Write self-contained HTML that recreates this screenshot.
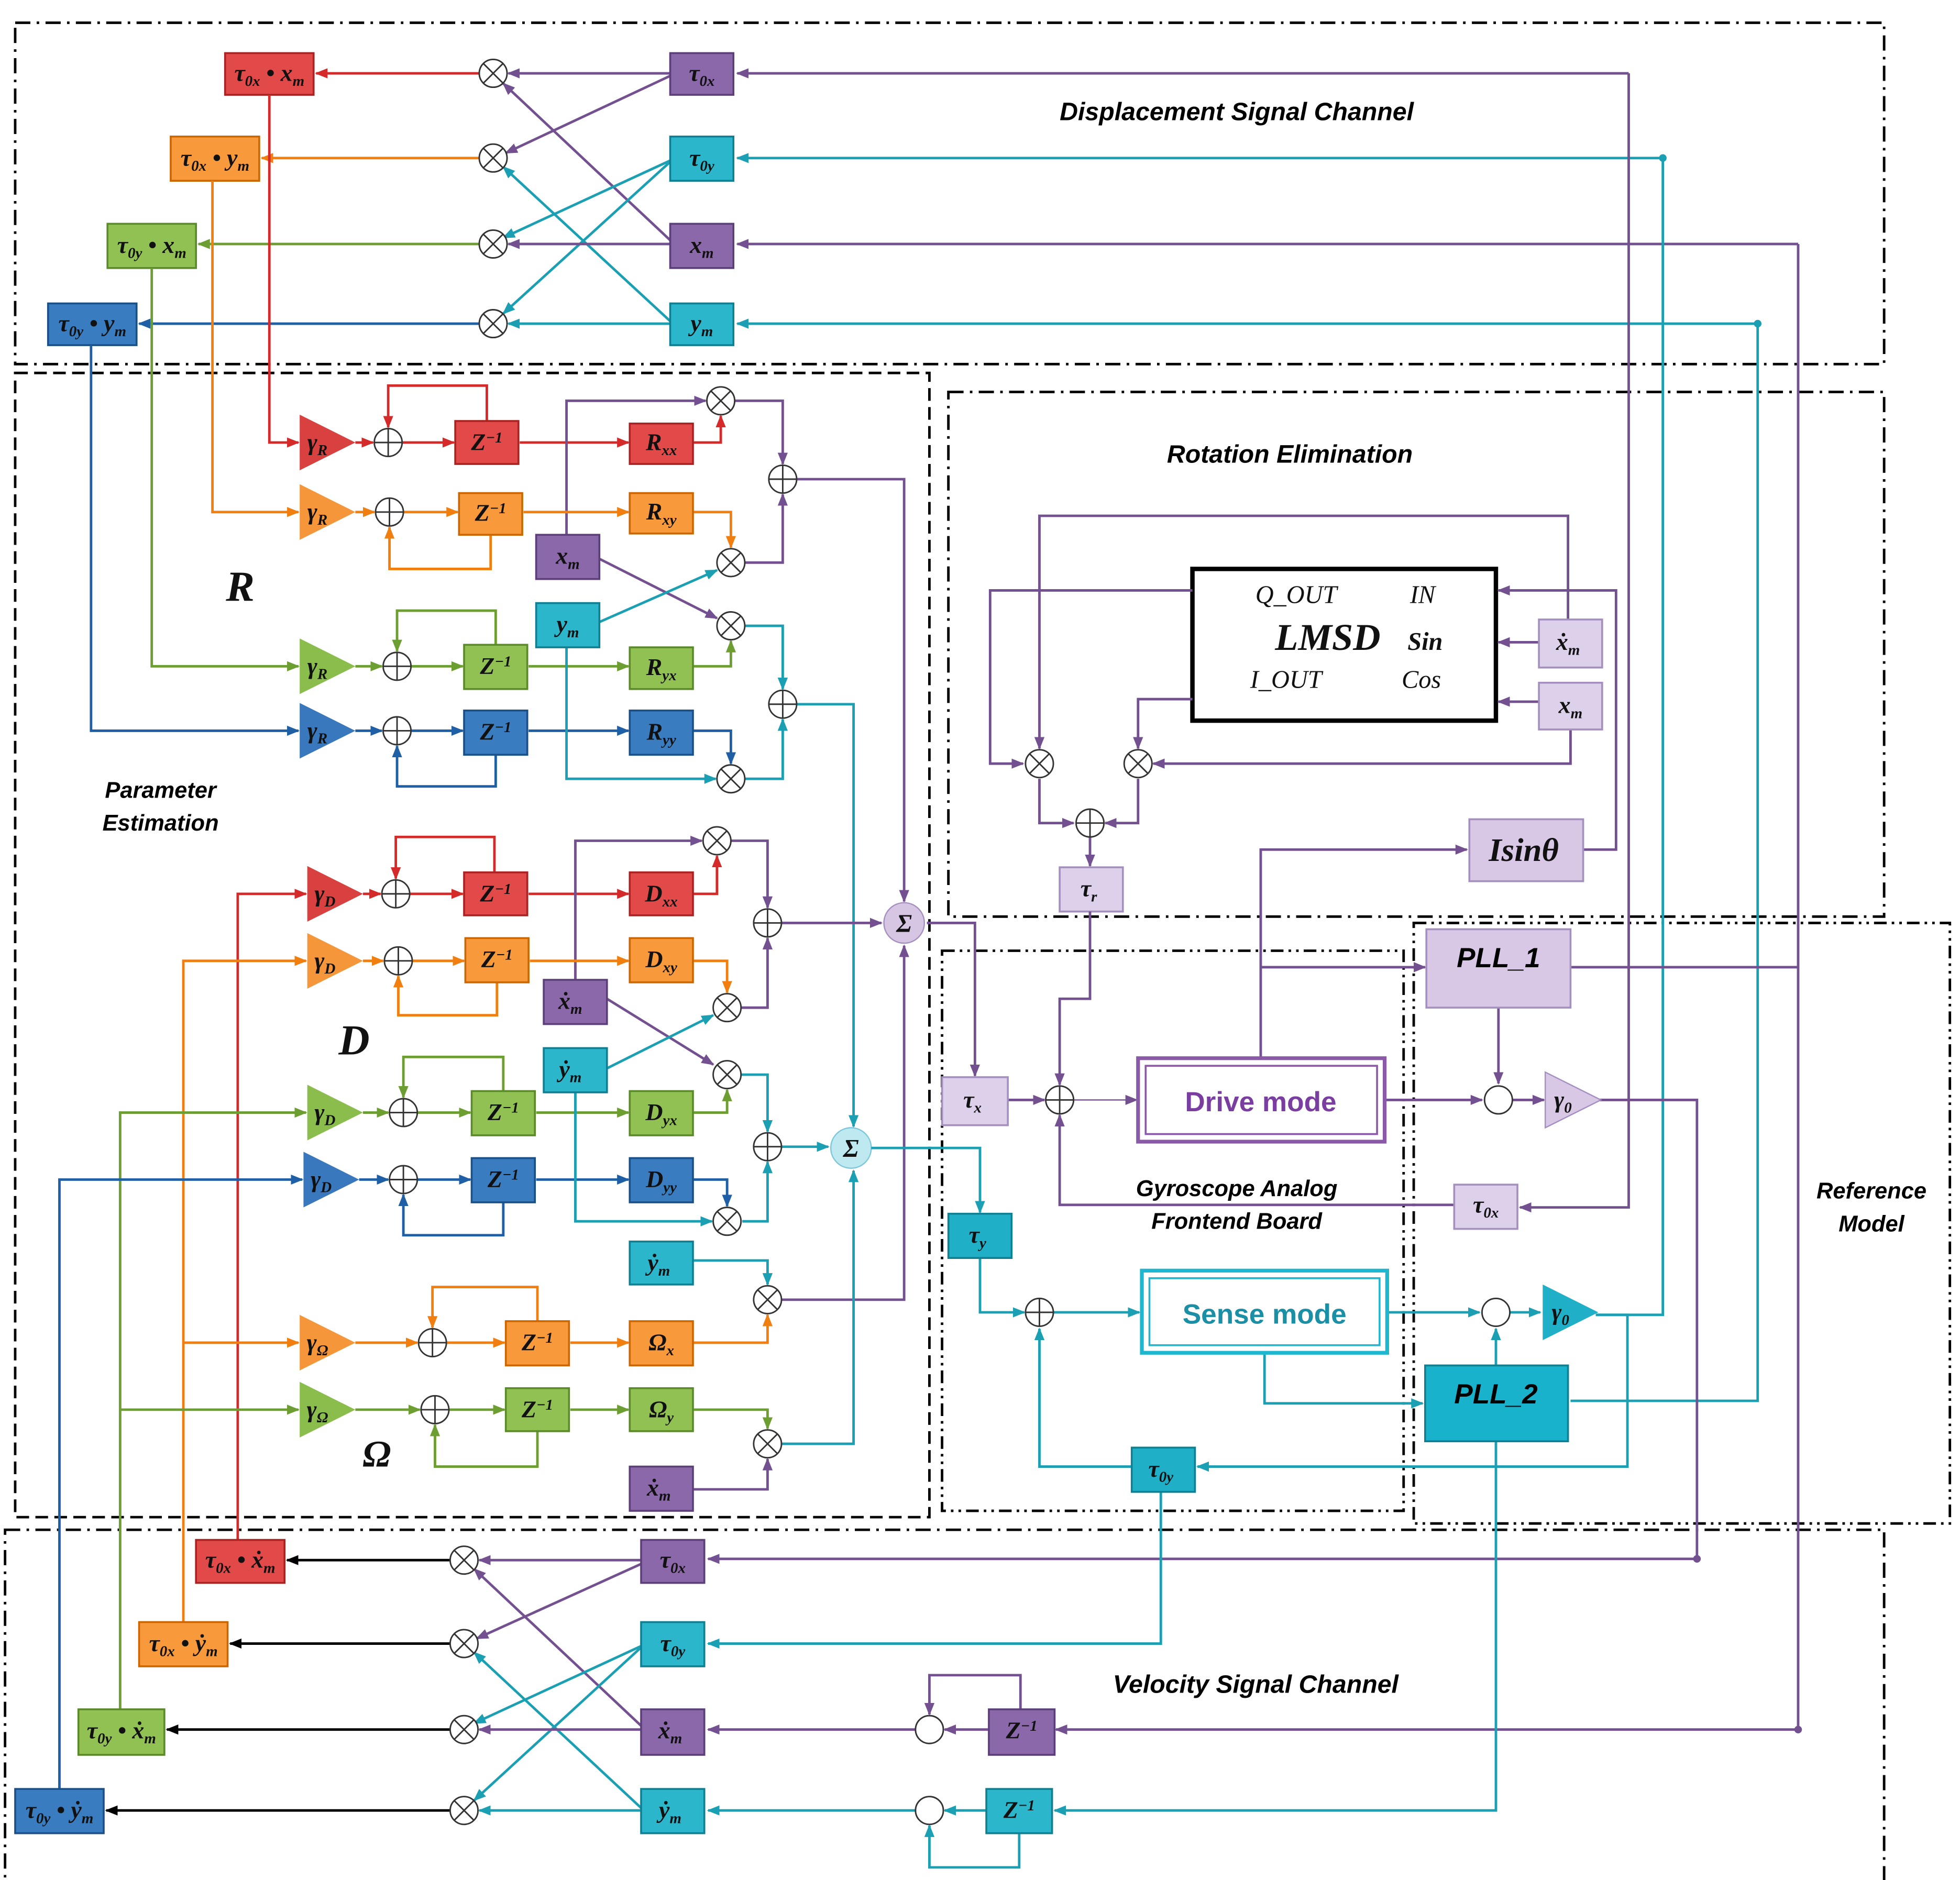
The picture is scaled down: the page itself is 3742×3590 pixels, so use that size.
<!DOCTYPE html>
<html><head><meta charset="utf-8"><style>
html,body{margin:0;padding:0;background:#fff}
svg{display:block}
.l{fill:none;stroke-width:2}
.r{stroke:#d42a2a}.o{stroke:#f07f10}.g{stroke:#6d9e32}.b{stroke:#1f5fa5}.p{stroke:#73508f}.c{stroke:#1a9fb3}.k{stroke:#000}
.bx{stroke-width:1.5}
.t{font-family:"Liberation Serif",serif;font-style:italic;font-weight:bold;font-size:19px;text-anchor:middle;fill:#111}
.s{font-size:12px}
.lab{font-family:"Liberation Sans",sans-serif;font-style:italic;font-weight:bold;font-size:20px;text-anchor:middle;fill:#000}
.dd{fill:none;stroke:#000;stroke-width:2;stroke-dasharray:12 5 2 5}
</style></head><body>
<svg width="3742" height="3590" viewBox="0 0 1550 1487" preserveAspectRatio="none" xmlns="http://www.w3.org/2000/svg">
<defs>
<marker id="ar" markerWidth="10" markerHeight="10" refX="9" refY="5" orient="auto" markerUnits="userSpaceOnUse"><path d="M0 1L10 5L0 9Z" fill="#d42a2a"/></marker>
<marker id="ao" markerWidth="10" markerHeight="10" refX="9" refY="5" orient="auto" markerUnits="userSpaceOnUse"><path d="M0 1L10 5L0 9Z" fill="#f07f10"/></marker>
<marker id="ag" markerWidth="10" markerHeight="10" refX="9" refY="5" orient="auto" markerUnits="userSpaceOnUse"><path d="M0 1L10 5L0 9Z" fill="#6d9e32"/></marker>
<marker id="ab" markerWidth="10" markerHeight="10" refX="9" refY="5" orient="auto" markerUnits="userSpaceOnUse"><path d="M0 1L10 5L0 9Z" fill="#1f5fa5"/></marker>
<marker id="ap" markerWidth="10" markerHeight="10" refX="9" refY="5" orient="auto" markerUnits="userSpaceOnUse"><path d="M0 1L10 5L0 9Z" fill="#73508f"/></marker>
<marker id="ac" markerWidth="10" markerHeight="10" refX="9" refY="5" orient="auto" markerUnits="userSpaceOnUse"><path d="M0 1L10 5L0 9Z" fill="#1a9fb3"/></marker>
<marker id="ak" markerWidth="10" markerHeight="10" refX="9" refY="5" orient="auto" markerUnits="userSpaceOnUse"><path d="M0 1L10 5L0 9Z" fill="#000"/></marker>
<g id="add"><circle r="11" fill="#fff" stroke="#333" stroke-width="1.2"/><path d="M-11 0H11M0-11V11" stroke="#333" stroke-width="1.2"/></g>
<g id="mul"><circle r="11" fill="#fff" stroke="#333" stroke-width="1.2"/><path d="M-7.8-7.8L7.8 7.8M-7.8 7.8L7.8-7.8" stroke="#333" stroke-width="1.2"/></g>
<g id="cir"><circle r="11" fill="#fff" stroke="#333" stroke-width="1.2"/></g>
<path id="tri" d="M0-22L44 0L0 22Z"/>
</defs>

<rect class="dd" x="12" y="18" width="1478" height="270"/>
<rect class="dd" x="12" y="295" width="723" height="905" style="stroke-dasharray:10 5"/>
<rect class="dd" x="750" y="310" width="740" height="415"/>
<rect class="dd" x="745" y="752" width="365" height="443" style="stroke-dasharray:10 4 2 4 2 4"/>
<rect class="dd" x="1118" y="730" width="424" height="475" style="stroke-dasharray:10 4 2 4 2 4"/>
<rect class="dd" x="4" y="1210" width="1486" height="280"/>

<path class="l p" d="M530 58H402" marker-end="url(#ap)"/>
<path class="l r" d="M379 58H250" marker-end="url(#ar)"/>
<path class="l p" d="M530 60L400 121" marker-end="url(#ap)"/>
<path class="l p" d="M530 190L398 66" marker-end="url(#ap)"/>
<path class="l o" d="M379 125H207" marker-end="url(#ao)"/>
<path class="l c" d="M530 127L398 188" marker-end="url(#ac)"/>
<path class="l c" d="M530 128L398 248" marker-end="url(#ac)"/>
<path class="l c" d="M530 254L398 132" marker-end="url(#ac)"/>
<path class="l p" d="M530 193H402" marker-end="url(#ap)"/>
<path class="l g" d="M379 193H157" marker-end="url(#ag)"/>
<path class="l c" d="M530 256H402" marker-end="url(#ac)"/>
<path class="l b" d="M379 256H110" marker-end="url(#ab)"/>
<use href="#mul" x="390" y="58"/><use href="#mul" x="390" y="125"/><use href="#mul" x="390" y="193"/><use href="#mul" x="390" y="256"/>
<path class="l p" d="M1288 58H583" marker-end="url(#ap)"/>
<path class="l c" d="M1315 125H583" marker-end="url(#ac)"/>
<path class="l p" d="M1422 193H583" marker-end="url(#ap)"/>
<path class="l c" d="M1390 256H583" marker-end="url(#ac)"/>
<path class="l p" d="M1288 58V955H1202" marker-end="url(#ap)"/>
<path class="l c" d="M1315 125V1040H1262"/>
<circle cx="1315" cy="125" r="3" fill="#1a9fb3"/><circle cx="1390" cy="256" r="3" fill="#1a9fb3"/>
<path class="l p" d="M1422 193V1368H835" marker-end="url(#ap)"/>
<circle cx="1422" cy="1368" r="3" fill="#73508f"/>
<path class="l c" d="M1390 256V1108H1242"/>

<rect x="178" y="42" width="70" height="33" fill="#e24a4a" stroke="#a22" class="bx"/>
<text x="213" y="64" class="t">τ<tspan class="s" dy="4">0x</tspan><tspan dy="-4"> • x</tspan><tspan class="s" dy="4">m</tspan></text>
<rect x="135" y="108" width="70" height="35" fill="#f89a3c" stroke="#c60" class="bx"/>
<text x="170" y="131" class="t">τ<tspan class="s" dy="4">0x</tspan><tspan dy="-4"> • y</tspan><tspan class="s" dy="4">m</tspan></text>
<rect x="85" y="177" width="70" height="35" fill="#92c153" stroke="#5a8a2a" class="bx"/>
<text x="120" y="200" class="t">τ<tspan class="s" dy="4">0y</tspan><tspan dy="-4"> • x</tspan><tspan class="s" dy="4">m</tspan></text>
<rect x="38" y="240" width="70" height="33" fill="#3a7cc0" stroke="#1b4f88" class="bx"/>
<text x="73" y="262" class="t">τ<tspan class="s" dy="4">0y</tspan><tspan dy="-4"> • y</tspan><tspan class="s" dy="4">m</tspan></text>
<rect x="530" y="42" width="50" height="33" fill="#8b68a9" stroke="#5c3f78" class="bx"/>
<text x="555" y="64" class="t">τ<tspan class="s" dy="4">0x</tspan></text>
<rect x="530" y="108" width="50" height="35" fill="#2bb6cc" stroke="#117f92" class="bx"/>
<text x="555" y="131" class="t">τ<tspan class="s" dy="4">0y</tspan></text>
<rect x="530" y="177" width="50" height="35" fill="#8b68a9" stroke="#5c3f78" class="bx"/>
<text x="555" y="200" class="t">x<tspan class="s" dy="4">m</tspan></text>
<rect x="530" y="240" width="50" height="33" fill="#2bb6cc" stroke="#117f92" class="bx"/>
<text x="555" y="262" class="t">y<tspan class="s" dy="4">m</tspan></text>
<text x="978" y="95" class="lab">Displacement Signal Channel</text>

<path class="l r" d="M213 75V350H236" marker-end="url(#ar)"/>
<path class="l r" d="M281 350H295" marker-end="url(#ar)"/>
<path class="l r" d="M318 350H359" marker-end="url(#ar)"/>
<path class="l r" d="M385 333V305H307V338" marker-end="url(#ar)"/>
<path class="l r" d="M411 350H497" marker-end="url(#ar)"/>
<path class="l r" d="M548 350H570V329" marker-end="url(#ar)"/>
<path class="l p" d="M448 423V317H558" marker-end="url(#ap)"/>
<path class="l o" d="M168 143V405H236" marker-end="url(#ao)"/>
<path class="l o" d="M281 405H296" marker-end="url(#ao)"/>
<path class="l o" d="M319 405H362" marker-end="url(#ao)"/>
<path class="l o" d="M388 423V450H308V417" marker-end="url(#ao)"/>
<path class="l o" d="M414 405H497" marker-end="url(#ao)"/>
<path class="l o" d="M548 405H578V433" marker-end="url(#ao)"/>
<path class="l g" d="M120 212V527H236" marker-end="url(#ag)"/>
<path class="l g" d="M281 527H302" marker-end="url(#ag)"/>
<path class="l g" d="M325 527H366" marker-end="url(#ag)"/>
<path class="l g" d="M392 510V483H314V515" marker-end="url(#ag)"/>
<path class="l g" d="M418 527H497" marker-end="url(#ag)"/>
<path class="l g" d="M548 527H578V507" marker-end="url(#ag)"/>
<path class="l b" d="M72 273V578H236" marker-end="url(#ab)"/>
<path class="l b" d="M281 578H302" marker-end="url(#ab)"/>
<path class="l b" d="M325 578H366" marker-end="url(#ab)"/>
<path class="l b" d="M392 597V622H314V590" marker-end="url(#ab)"/>
<path class="l b" d="M418 578H497" marker-end="url(#ab)"/>
<path class="l b" d="M548 578H578V604" marker-end="url(#ab)"/>
<path class="l p" d="M474 442L567 489" marker-end="url(#ap)"/>
<path class="l c" d="M474 492L567 451" marker-end="url(#ac)"/>
<path class="l c" d="M448 512V616H566" marker-end="url(#ac)"/>
<path class="l p" d="M581 317H619V367" marker-end="url(#ap)"/>
<path class="l p" d="M589 445H619V391" marker-end="url(#ap)"/>
<path class="l c" d="M589 495H619V545" marker-end="url(#ac)"/>
<path class="l c" d="M589 616H619V569" marker-end="url(#ac)"/>
<path class="l p" d="M630 379H715V713" marker-end="url(#ap)"/>
<path class="l c" d="M630 557H675V891" marker-end="url(#ac)"/>
<use href="#mul" x="570" y="317"/><use href="#mul" x="578" y="445"/><use href="#mul" x="578" y="495"/><use href="#mul" x="578" y="616"/>
<use href="#add" x="619" y="379"/><use href="#add" x="619" y="557"/>
<use href="#add" x="307" y="350"/><use href="#add" x="308" y="405"/><use href="#add" x="314" y="527"/><use href="#add" x="314" y="578"/>
<use href="#tri" x="237" y="350" fill="#d94040"/><use href="#tri" x="237" y="405" fill="#f5963a"/><use href="#tri" x="237" y="527" fill="#8bbd4d"/><use href="#tri" x="237" y="578" fill="#3a78bd"/>
<text x="251" y="356" class="t">γ<tspan class="s" dy="4">R</tspan></text>
<text x="251" y="411" class="t">γ<tspan class="s" dy="4">R</tspan></text>
<text x="251" y="533" class="t">γ<tspan class="s" dy="4">R</tspan></text>
<text x="251" y="584" class="t">γ<tspan class="s" dy="4">R</tspan></text>
<rect x="360" y="333" width="50" height="34" fill="#e24a4a" stroke="#a22" class="bx"/><text x="385" y="356" class="t">Z<tspan class="s" dy="-6">−1</tspan></text>
<rect x="363" y="390" width="50" height="33" fill="#f89a3c" stroke="#c60" class="bx"/><text x="388" y="412" class="t">Z<tspan class="s" dy="-6">−1</tspan></text>
<rect x="367" y="510" width="50" height="35" fill="#92c153" stroke="#5a8a2a" class="bx"/><text x="392" y="533" class="t">Z<tspan class="s" dy="-6">−1</tspan></text>
<rect x="367" y="562" width="50" height="35" fill="#3a7cc0" stroke="#1b4f88" class="bx"/><text x="392" y="585" class="t">Z<tspan class="s" dy="-6">−1</tspan></text>
<rect x="498" y="335" width="50" height="32" fill="#e24a4a" stroke="#a22" class="bx"/><text x="523" y="356" class="t">R<tspan class="s" dy="4">xx</tspan></text>
<rect x="498" y="390" width="50" height="32" fill="#f89a3c" stroke="#c60" class="bx"/><text x="523" y="411" class="t">R<tspan class="s" dy="4">xy</tspan></text>
<rect x="498" y="512" width="50" height="33" fill="#92c153" stroke="#5a8a2a" class="bx"/><text x="523" y="534" class="t">R<tspan class="s" dy="4">yx</tspan></text>
<rect x="498" y="562" width="50" height="35" fill="#3a7cc0" stroke="#1b4f88" class="bx"/><text x="523" y="585" class="t">R<tspan class="s" dy="4">yy</tspan></text>
<rect x="424" y="423" width="50" height="35" fill="#8b68a9" stroke="#5c3f78" class="bx"/><text x="449" y="446" class="t">x<tspan class="s" dy="4">m</tspan></text>
<rect x="424" y="477" width="50" height="35" fill="#2bb6cc" stroke="#117f92" class="bx"/><text x="449" y="500" class="t">y<tspan class="s" dy="4">m</tspan></text>
<text x="190" y="475" class="t" style="font-size:34px">R</text>
<text x="127" y="631" class="lab" style="font-size:18px">Parameter</text>
<text x="127" y="657" class="lab" style="font-size:18px">Estimation</text>

<path class="l r" d="M188 1218V707H242" marker-end="url(#ar)"/>
<path class="l r" d="M287 707H301" marker-end="url(#ar)"/>
<path class="l r" d="M324 707H366" marker-end="url(#ar)"/>
<path class="l r" d="M391 690V662H313V695" marker-end="url(#ar)"/>
<path class="l r" d="M418 707H497" marker-end="url(#ar)"/>
<path class="l r" d="M548 707H567V677" marker-end="url(#ar)"/>
<path class="l p" d="M455 775V665H555" marker-end="url(#ap)"/>
<path class="l o" d="M145 1283V760H242" marker-end="url(#ao)"/>
<path class="l o" d="M287 760H303" marker-end="url(#ao)"/>
<path class="l o" d="M326 760H367" marker-end="url(#ao)"/>
<path class="l o" d="M393 777V803H315V772" marker-end="url(#ao)"/>
<path class="l o" d="M419 760H497" marker-end="url(#ao)"/>
<path class="l o" d="M548 760H575V785" marker-end="url(#ao)"/>
<path class="l g" d="M95 1352V880H242" marker-end="url(#ag)"/>
<path class="l g" d="M287 880H307" marker-end="url(#ag)"/>
<path class="l g" d="M330 880H372" marker-end="url(#ag)"/>
<path class="l g" d="M398 863V836H319V868" marker-end="url(#ag)"/>
<path class="l g" d="M424 880H497" marker-end="url(#ag)"/>
<path class="l g" d="M548 880H575V862" marker-end="url(#ag)"/>
<path class="l b" d="M47 1415V933H239" marker-end="url(#ab)"/>
<path class="l b" d="M284 933H307" marker-end="url(#ab)"/>
<path class="l b" d="M330 933H372" marker-end="url(#ab)"/>
<path class="l b" d="M398 951V977H319V945" marker-end="url(#ab)"/>
<path class="l b" d="M424 933H497" marker-end="url(#ab)"/>
<path class="l b" d="M548 933H575V954" marker-end="url(#ab)"/>
<path class="l p" d="M480 790L564 842" marker-end="url(#ap)"/>
<path class="l c" d="M480 845L564 803" marker-end="url(#ac)"/>
<path class="l c" d="M455 864V966H563" marker-end="url(#ac)"/>
<path class="l p" d="M578 665H607V718" marker-end="url(#ap)"/>
<path class="l p" d="M586 797H607V742" marker-end="url(#ap)"/>
<path class="l c" d="M586 850H607V895" marker-end="url(#ac)"/>
<path class="l c" d="M587 966H607V919" marker-end="url(#ac)"/>
<path class="l p" d="M618 730H697" marker-end="url(#ap)"/>
<path class="l c" d="M618 907H655" marker-end="url(#ac)"/>
<use href="#mul" x="567" y="665"/><use href="#mul" x="575" y="797"/><use href="#mul" x="575" y="850"/><use href="#mul" x="575" y="966"/>
<use href="#add" x="607" y="730"/><use href="#add" x="607" y="907"/>
<use href="#add" x="313" y="707"/><use href="#add" x="315" y="760"/><use href="#add" x="319" y="880"/><use href="#add" x="319" y="933"/>
<use href="#tri" x="243" y="707" fill="#d94040"/><use href="#tri" x="243" y="760" fill="#f5963a"/><use href="#tri" x="243" y="880" fill="#8bbd4d"/><use href="#tri" x="240" y="933" fill="#3a78bd"/>
<text x="257" y="713" class="t">γ<tspan class="s" dy="4">D</tspan></text>
<text x="257" y="766" class="t">γ<tspan class="s" dy="4">D</tspan></text>
<text x="257" y="886" class="t">γ<tspan class="s" dy="4">D</tspan></text>
<text x="254" y="939" class="t">γ<tspan class="s" dy="4">D</tspan></text>
<rect x="367" y="690" width="50" height="34" fill="#e24a4a" stroke="#a22" class="bx"/><text x="392" y="713" class="t">Z<tspan class="s" dy="-6">−1</tspan></text>
<rect x="368" y="742" width="50" height="35" fill="#f89a3c" stroke="#c60" class="bx"/><text x="393" y="765" class="t">Z<tspan class="s" dy="-6">−1</tspan></text>
<rect x="373" y="863" width="50" height="35" fill="#92c153" stroke="#5a8a2a" class="bx"/><text x="398" y="886" class="t">Z<tspan class="s" dy="-6">−1</tspan></text>
<rect x="373" y="916" width="50" height="35" fill="#3a7cc0" stroke="#1b4f88" class="bx"/><text x="398" y="939" class="t">Z<tspan class="s" dy="-6">−1</tspan></text>
<rect x="498" y="690" width="50" height="34" fill="#e24a4a" stroke="#a22" class="bx"/><text x="523" y="713" class="t">D<tspan class="s" dy="4">xx</tspan></text>
<rect x="498" y="742" width="50" height="35" fill="#f89a3c" stroke="#c60" class="bx"/><text x="523" y="765" class="t">D<tspan class="s" dy="4">xy</tspan></text>
<rect x="498" y="863" width="50" height="35" fill="#92c153" stroke="#5a8a2a" class="bx"/><text x="523" y="886" class="t">D<tspan class="s" dy="4">yx</tspan></text>
<rect x="498" y="916" width="50" height="35" fill="#3a7cc0" stroke="#1b4f88" class="bx"/><text x="523" y="939" class="t">D<tspan class="s" dy="4">yy</tspan></text>
<rect x="430" y="775" width="50" height="35" fill="#8b68a9" stroke="#5c3f78" class="bx"/><text x="451" y="798" class="t">ẋ<tspan class="s" dy="4">m</tspan></text>
<rect x="430" y="829" width="50" height="35" fill="#2bb6cc" stroke="#117f92" class="bx"/><text x="451" y="852" class="t">ẏ<tspan class="s" dy="4">m</tspan></text>
<text x="280" y="834" class="t" style="font-size:34px">D</text>
<circle cx="715" cy="730" r="16" fill="#d6c6e4" stroke="#a58fbf" stroke-width="1"/><text x="715" y="737" class="t" style="font-size:20px">Σ</text>
<circle cx="673" cy="908" r="16" fill="#bfe9f1" stroke="#7cc8d8" stroke-width="1"/><text x="673" y="915" class="t" style="font-size:20px">Σ</text>

<path class="l c" d="M548 997H607V1016" marker-end="url(#ac)"/>
<path class="l p" d="M618 1028H715V748" marker-end="url(#ap)"/>
<path class="l o" d="M145 1062H236" marker-end="url(#ao)"/>
<path class="l o" d="M281 1062H330" marker-end="url(#ao)"/>
<path class="l o" d="M353 1062H399" marker-end="url(#ao)"/>
<path class="l o" d="M425 1045V1018H342V1050" marker-end="url(#ao)"/>
<path class="l o" d="M451 1062H497" marker-end="url(#ao)"/>
<path class="l o" d="M548 1062H607V1040" marker-end="url(#ao)"/>
<path class="l g" d="M95 1115H236" marker-end="url(#ag)"/>
<path class="l g" d="M281 1115H332" marker-end="url(#ag)"/>
<path class="l g" d="M355 1115H399" marker-end="url(#ag)"/>
<path class="l g" d="M425 1132V1160H344V1127" marker-end="url(#ag)"/>
<path class="l g" d="M451 1115H497" marker-end="url(#ag)"/>
<path class="l g" d="M548 1115H607V1130" marker-end="url(#ag)"/>
<path class="l p" d="M548 1178H607V1154" marker-end="url(#ap)"/>
<path class="l c" d="M618 1142H675V926" marker-end="url(#ac)"/>
<use href="#mul" x="607" y="1028"/><use href="#mul" x="607" y="1142"/>
<use href="#add" x="342" y="1062"/><use href="#add" x="344" y="1115"/>
<use href="#tri" x="237" y="1062" fill="#f5963a"/><use href="#tri" x="237" y="1115" fill="#8bbd4d"/>
<text x="251" y="1068" class="t">γ<tspan class="s" dy="4">Ω</tspan></text>
<text x="251" y="1121" class="t">γ<tspan class="s" dy="4">Ω</tspan></text>
<rect x="498" y="982" width="50" height="34" fill="#2bb6cc" stroke="#117f92" class="bx"/><text x="521" y="1005" class="t">ẏ<tspan class="s" dy="4">m</tspan></text>
<rect x="400" y="1045" width="50" height="35" fill="#f89a3c" stroke="#c60" class="bx"/><text x="425" y="1068" class="t">Z<tspan class="s" dy="-6">−1</tspan></text>
<rect x="400" y="1098" width="50" height="34" fill="#92c153" stroke="#5a8a2a" class="bx"/><text x="425" y="1121" class="t">Z<tspan class="s" dy="-6">−1</tspan></text>
<rect x="498" y="1045" width="50" height="35" fill="#f89a3c" stroke="#c60" class="bx"/><text x="523" y="1068" class="t">Ω<tspan class="s" dy="4">x</tspan></text>
<rect x="498" y="1098" width="50" height="34" fill="#92c153" stroke="#5a8a2a" class="bx"/><text x="523" y="1121" class="t">Ω<tspan class="s" dy="4">y</tspan></text>
<rect x="498" y="1160" width="50" height="35" fill="#8b68a9" stroke="#5c3f78" class="bx"/><text x="521" y="1183" class="t">ẋ<tspan class="s" dy="4">m</tspan></text>
<text x="298" y="1160" class="t" style="font-size:30px">Ω</text>

<rect x="943" y="450" width="240" height="120" fill="#fff" stroke="#000" stroke-width="3.5"/>
<text x="1025" y="477" class="t" style="font-weight:normal;font-size:20px">Q_OUT</text>
<text x="1125" y="477" class="t" style="font-weight:normal;font-size:20px">IN</text>
<text x="1050" y="514" class="t" style="font-size:30px">LMSD</text>
<text x="1127" y="514" class="t" style="font-size:20px">Sin</text>
<text x="1017" y="544" class="t" style="font-weight:normal;font-size:20px">I_OUT</text>
<text x="1124" y="544" class="t" style="font-weight:normal;font-size:20px">Cos</text>
<path class="l p" d="M1217 508H1185" marker-end="url(#ap)"/>
<path class="l p" d="M1217 555H1185" marker-end="url(#ap)"/>
<path class="l p" d="M1252 672H1278V467H1185" marker-end="url(#ap)"/>
<path class="l p" d="M1240 490V408H822V592" marker-end="url(#ap)"/>
<path class="l p" d="M943 467H783V604H809" marker-end="url(#ap)"/>
<path class="l p" d="M943 553H900V592" marker-end="url(#ap)"/>
<path class="l p" d="M1242 577V604H912" marker-end="url(#ap)"/>
<path class="l p" d="M822 616V651H849" marker-end="url(#ap)"/>
<path class="l p" d="M900 616V651H874" marker-end="url(#ap)"/>
<path class="l p" d="M862 662V685" marker-end="url(#ap)"/>
<use href="#mul" x="822" y="604"/><use href="#mul" x="900" y="604"/><use href="#add" x="862" y="651"/>
<rect x="1217" y="490" width="50" height="38" fill="#ddd0ea" stroke="#a58fbf" class="bx"/><text x="1240" y="514" class="t">ẋ<tspan class="s" dy="4">m</tspan></text>
<rect x="1217" y="540" width="50" height="37" fill="#ddd0ea" stroke="#a58fbf" class="bx"/><text x="1242" y="564" class="t">x<tspan class="s" dy="4">m</tspan></text>
<rect x="1162" y="648" width="90" height="49" fill="#d8c8e6" stroke="#a58fbf" class="bx"/><text x="1205" y="681" class="t" style="font-size:26px">Isinθ</text>
<rect x="838" y="686" width="50" height="35" fill="#ddd0ea" stroke="#a58fbf" class="bx"/><text x="861" y="709" class="t">τ<tspan class="s" dy="4">r</tspan></text>
<text x="1020" y="366" class="lab">Rotation Elimination</text>

<path class="l p" d="M733 730H771V851" marker-end="url(#ap)"/>
<path class="l c" d="M689 908H775V959" marker-end="url(#ac)"/>
<path class="l p" d="M797 870H826" marker-end="url(#ap)"/>
<path class="l p" d="M862 721V790H838V858" marker-end="url(#ap)"/>
<path class="l p" d="M1150 953H838V882" marker-end="url(#ap)"/>
<path class="l p" d="M849 870H899" marker-end="url(#ap)" style="stroke-width:1"/>
<path class="l p" d="M997 837V672H1160" marker-end="url(#ap)"/>
<path class="l p" d="M997 765H1127" marker-end="url(#ap)"/>
<path class="l p" d="M1095 870H1172" marker-end="url(#ap)"/>
<path class="l p" d="M1185 797V857" marker-end="url(#ap)"/>
<path class="l p" d="M1196 870H1221" marker-end="url(#ap)"/>
<path class="l p" d="M1242 765H1422"/>
<path class="l p" d="M1265 870H1342V1233H560" marker-end="url(#ap)"/>
<circle cx="1342" cy="1233" r="3" fill="#73508f"/>
<use href="#add" x="838" y="870"/><use href="#cir" x="1185" y="870"/>
<rect x="745" y="852" width="52" height="38" fill="#ddd0ea" stroke="#a58fbf" class="bx"/><text x="769" y="876" class="t">τ<tspan class="s" dy="4">x</tspan></text>
<rect x="900" y="837" width="195" height="66" fill="#fff" stroke="#8a5aa8" stroke-width="3"/>
<rect x="906" y="843" width="183" height="54" fill="none" stroke="#8a5aa8" stroke-width="1.5"/>
<text x="997" y="879" style="font-family:'Liberation Sans',sans-serif;font-weight:bold;font-size:22px;fill:#7a3ea0;text-anchor:middle">Drive mode</text>
<rect x="1128" y="735" width="114" height="62" fill="#d8c8e6" stroke="#a58fbf" class="bx"/><text x="1185" y="765" class="lab" style="font-size:22px">PLL_1</text>
<use href="#tri" x="1222" y="870" fill="#d8c8e6" stroke="#a58fbf"/>
<text x="1236" y="876" class="t">γ<tspan class="s" dy="4">0</tspan></text>
<rect x="1150" y="937" width="50" height="35" fill="#ddd0ea" stroke="#a58fbf" class="bx"/><text x="1175" y="959" class="t">τ<tspan class="s" dy="4">0x</tspan></text>
<text x="978" y="946" class="lab" style="font-size:18px">Gyroscope Analog</text>
<text x="978" y="972" class="lab" style="font-size:18px">Frontend Board</text>

<path class="l c" d="M775 995V1038H810" marker-end="url(#ac)"/>
<path class="l c" d="M833 1038H901" marker-end="url(#ac)"/>
<path class="l c" d="M1097 1038H1170" marker-end="url(#ac)"/>
<path class="l c" d="M1194 1038H1218" marker-end="url(#ac)"/>
<path class="l c" d="M1000 1070V1110H1125" marker-end="url(#ac)"/>
<path class="l c" d="M1183 1080V1051" marker-end="url(#ac)"/>
<path class="l c" d="M1262 1040H1287V1160H947" marker-end="url(#ac)"/>
<path class="l c" d="M895 1160H822V1051" marker-end="url(#ac)"/>
<path class="l c" d="M918 1180V1300H560" marker-end="url(#ac)"/>
<path class="l c" d="M1183 1140V1432H834" marker-end="url(#ac)"/>
<use href="#add" x="822" y="1038"/><use href="#cir" x="1183" y="1038"/>
<rect x="750" y="960" width="50" height="35" fill="#1fb0c8" stroke="#117f92" class="bx"/><text x="773" y="983" class="t">τ<tspan class="s" dy="4">y</tspan></text>
<rect x="903" y="1005" width="194" height="65" fill="#fff" stroke="#1fb6cf" stroke-width="3"/>
<rect x="909" y="1011" width="182" height="53" fill="none" stroke="#1fb6cf" stroke-width="1.5"/>
<text x="1000" y="1047" style="font-family:'Liberation Sans',sans-serif;font-weight:bold;font-size:22px;fill:#1a8fa5;text-anchor:middle">Sense mode</text>
<rect x="1127" y="1080" width="113" height="60" fill="#18b2cc" stroke="#0f7f92" class="bx"/><text x="1183" y="1110" class="lab" style="font-size:22px">PLL_2</text>
<use href="#tri" x="1220" y="1038" fill="#1fb0c8"/>
<text x="1234" y="1044" class="t">γ<tspan class="s" dy="4">0</tspan></text>
<rect x="895" y="1145" width="50" height="35" fill="#1fb0c8" stroke="#117f92" class="bx"/><text x="918" y="1168" class="t">τ<tspan class="s" dy="4">0y</tspan></text>
<text x="1480" y="948" class="lab" style="font-size:18px">Reference</text>
<text x="1480" y="974" class="lab" style="font-size:18px">Model</text>

<path class="l p" d="M507 1234H379" marker-end="url(#ap)"/>
<path class="l k" d="M356 1234H227" marker-end="url(#ak)"/>
<path class="l p" d="M507 1237L377 1296" marker-end="url(#ap)"/>
<path class="l p" d="M507 1365L375 1241" marker-end="url(#ap)"/>
<path class="l k" d="M356 1300H182" marker-end="url(#ak)"/>
<path class="l c" d="M507 1302L375 1363" marker-end="url(#ac)"/>
<path class="l c" d="M507 1303L375 1424" marker-end="url(#ac)"/>
<path class="l c" d="M507 1430L375 1307" marker-end="url(#ac)"/>
<path class="l p" d="M507 1368H379" marker-end="url(#ap)"/>
<path class="l k" d="M356 1368H132" marker-end="url(#ak)"/>
<path class="l c" d="M507 1432H379" marker-end="url(#ac)"/>
<path class="l k" d="M356 1432H84" marker-end="url(#ak)"/>
<use href="#mul" x="367" y="1234"/><use href="#mul" x="367" y="1300"/><use href="#mul" x="367" y="1368"/><use href="#mul" x="367" y="1432"/>
<path class="l p" d="M782 1368H747" marker-end="url(#ap)"/>
<path class="l p" d="M724 1368H560" marker-end="url(#ap)"/>
<path class="l p" d="M807 1352V1325H735V1356" marker-end="url(#ap)"/>
<path class="l c" d="M780 1432H747" marker-end="url(#ac)"/>
<path class="l c" d="M724 1432H560" marker-end="url(#ac)"/>
<path class="l c" d="M806 1450V1477H735V1444" marker-end="url(#ac)"/>
<use href="#cir" x="735" y="1368"/><use href="#cir" x="735" y="1432"/>
<rect x="155" y="1218" width="70" height="34" fill="#e24a4a" stroke="#a22" class="bx"/>
<text x="190" y="1240" class="t">τ<tspan class="s" dy="4">0x</tspan><tspan dy="-4"> • ẋ</tspan><tspan class="s" dy="4">m</tspan></text>
<rect x="110" y="1283" width="70" height="35" fill="#f89a3c" stroke="#c60" class="bx"/>
<text x="145" y="1306" class="t">τ<tspan class="s" dy="4">0x</tspan><tspan dy="-4"> • ẏ</tspan><tspan class="s" dy="4">m</tspan></text>
<rect x="62" y="1352" width="68" height="36" fill="#92c153" stroke="#5a8a2a" class="bx"/>
<text x="96" y="1375" class="t">τ<tspan class="s" dy="4">0y</tspan><tspan dy="-4"> • ẋ</tspan><tspan class="s" dy="4">m</tspan></text>
<rect x="12" y="1415" width="70" height="35" fill="#3a7cc0" stroke="#1b4f88" class="bx"/>
<text x="47" y="1438" class="t">τ<tspan class="s" dy="4">0y</tspan><tspan dy="-4"> • ẏ</tspan><tspan class="s" dy="4">m</tspan></text>
<rect x="507" y="1218" width="50" height="34" fill="#8b68a9" stroke="#5c3f78" class="bx"/><text x="532" y="1240" class="t">τ<tspan class="s" dy="4">0x</tspan></text>
<rect x="507" y="1283" width="50" height="35" fill="#2bb6cc" stroke="#117f92" class="bx"/><text x="532" y="1306" class="t">τ<tspan class="s" dy="4">0y</tspan></text>
<rect x="507" y="1352" width="50" height="36" fill="#8b68a9" stroke="#5c3f78" class="bx"/><text x="530" y="1375" class="t">ẋ<tspan class="s" dy="4">m</tspan></text>
<rect x="507" y="1415" width="50" height="35" fill="#2bb6cc" stroke="#117f92" class="bx"/><text x="530" y="1438" class="t">ẏ<tspan class="s" dy="4">m</tspan></text>
<rect x="782" y="1352" width="52" height="36" fill="#8b68a9" stroke="#5c3f78" class="bx"/><text x="808" y="1375" class="t">Z<tspan class="s" dy="-6">−1</tspan></text>
<rect x="780" y="1415" width="52" height="35" fill="#2bb6cc" stroke="#117f92" class="bx"/><text x="806" y="1438" class="t">Z<tspan class="s" dy="-6">−1</tspan></text>
<text x="993" y="1339" class="lab">Velocity Signal Channel</text>
</svg>
</body></html>
